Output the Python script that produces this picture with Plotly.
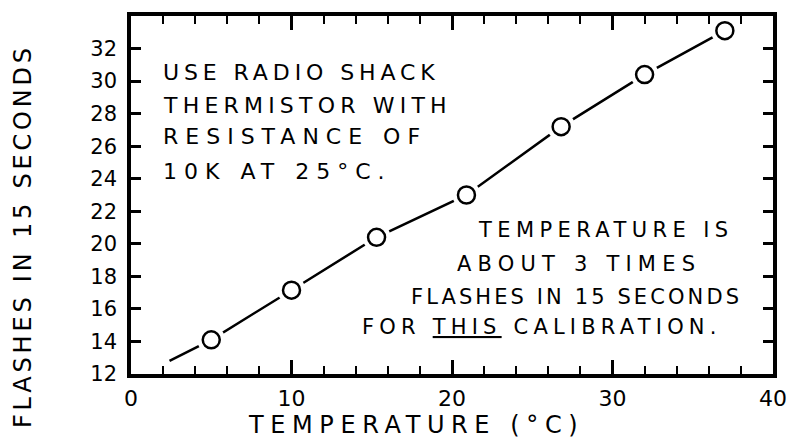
import plotly.graph_objects as go

# Calibration readings
temperature_c = [5.0, 10.0, 15.3, 20.9, 26.8, 32.0, 37.0]
flashes_15s = [14.1, 17.15, 20.4, 23.0, 27.2, 30.4, 33.1]

# Hand-drawn guide line: starts a little left of the first reading
line_x = [2.4, 5.0, 10.0, 15.3, 20.9, 26.8, 32.0, 37.0]
line_y = [12.8, 14.1, 17.15, 20.4, 23.0, 27.2, 30.4, 33.1]

x_ticks = [0, 10, 20, 30, 40]
y_ticks = [12, 14, 16, 18, 20, 22, 24, 26, 28, 30, 32]

left_note = ["USE RADIO SHACK", "THERMISTOR WITH", "RESISTANCE OF", "10K AT 25°C."]
right_note = ["TEMPERATURE IS", "ABOUT 3 TIMES", "FLASHES IN 15 SECONDS",
              "FOR <u>THIS</u> CALIBRATION."]
x_title = "TEMPERATURE (°C)"
y_title = "FLASHES IN 15 SECONDS"

FONT = "DejaVu Sans"


def spaced(text, px):
    return f'<span style="letter-spacing:{px}px">{text}</span>'


fig = go.Figure()
fig.add_trace(go.Scatter(x=line_x, y=line_y, mode="lines",
                         line=dict(color="black", width=2.5), hoverinfo="skip"))
# white halo to open gaps in the line around each circle
fig.add_trace(go.Scatter(x=temperature_c, y=flashes_15s, mode="markers",
                         marker=dict(size=28, color="white", line=dict(width=0)),
                         hoverinfo="skip"))
fig.add_trace(go.Scatter(x=temperature_c, y=flashes_15s, mode="markers",
                         marker=dict(size=17, color="white", symbol="circle",
                                     line=dict(color="black", width=2.5))))

PL, PT, PW, PH = 131, 13, 647, 361


def px2paper(px, py):
    return (px - PL) / PW, (PT + PH - py) / PH


ann = []
left_y = [70, 103, 135, 170]
left_sp = [4.9, 5.2, 7.0, 7.0]
for t, py, sp in zip(left_note, left_y, left_sp):
    x, y = px2paper(161, py)
    ann.append(dict(text=spaced(t, sp), xref="paper", yref="paper", x=x, y=y,
                    xanchor="left", yanchor="middle", showarrow=False,
                    font=dict(family=FONT, size=22, color="black")))
right_pos = [(609, 229), (582, 263), (580, 296), (545, 327)]
right_sp = [5.4, 6.2, 3.1, 5.2]
for t, (px, py), sp in zip(right_note, right_pos, right_sp):
    x, y = px2paper(px, py)
    ann.append(dict(text=spaced(t, sp), xref="paper", yref="paper", x=x, y=y,
                    xanchor="center", yanchor="middle", showarrow=False,
                    font=dict(family=FONT, size=21, color="black")))
x, y = px2paper(418, 425)
ann.append(dict(text=spaced(x_title, 6.6), xref="paper", yref="paper", x=x, y=y,
                xanchor="center", yanchor="middle", showarrow=False,
                font=dict(family=FONT, size=24, color="black")))
x, y = px2paper(22, 235)
ann.append(dict(text=spaced(y_title, 3.8), xref="paper", yref="paper", x=x, y=y,
                textangle=-90, xanchor="center", yanchor="middle", showarrow=False,
                font=dict(family=FONT, size=24, color="black")))

fig.update_layout(
    width=799, height=442,
    margin=dict(l=PL, r=799 - PL - PW, t=PT, b=442 - PT - PH),
    paper_bgcolor="white", plot_bgcolor="white",
    showlegend=False,
    annotations=ann,
    font=dict(family=FONT, color="black"),
)
fig.update_xaxes(range=[0, 40], tickvals=x_ticks, ticks="inside", ticklen=14,
                 tickwidth=2.5, tickcolor="black",
                 minor=dict(dtick=2, ticks="inside", ticklen=8, tickwidth=2,
                            tickcolor="black"),
                 showline=True, linewidth=3.5, linecolor="black", mirror="ticks",
                 showgrid=False, zeroline=False, ticklabelstandoff=2,
                 tickfont=dict(family=FONT, size=22, color="black"))
fig.update_yaxes(range=[12, 34], tickvals=y_ticks, ticks="inside", ticklen=10,
                 tickwidth=2.5, tickcolor="black",
                 showline=True, linewidth=3.5, linecolor="black", mirror="ticks",
                 showgrid=False, zeroline=False, ticklabelstandoff=6,
                 tickfont=dict(family=FONT, size=21, color="black"))

fig.write_html("out.html", config={"displayModeBar": False},
               post_script="document.body.style.margin='0';")
